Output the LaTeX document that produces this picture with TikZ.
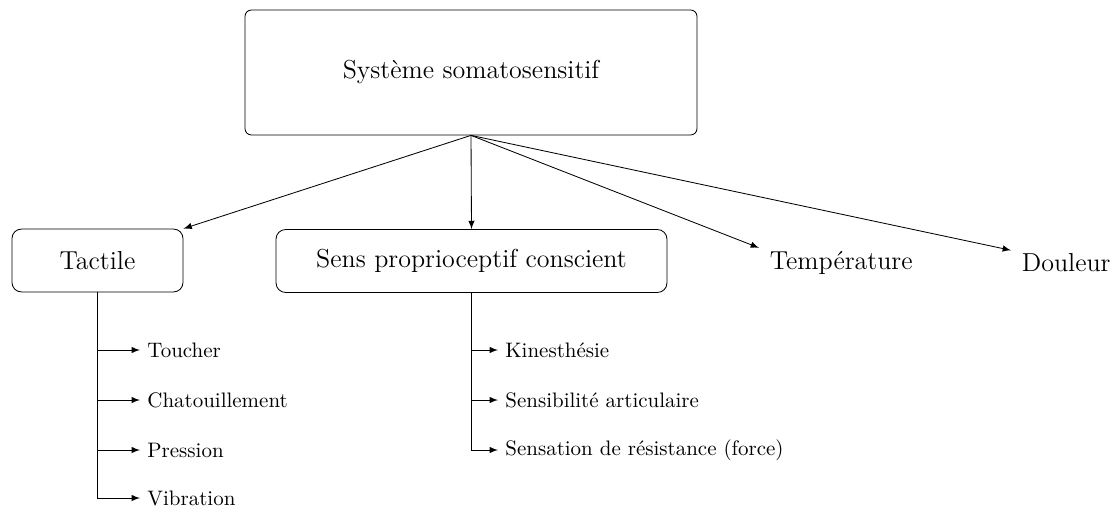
\documentclass[tikz,border=0pt]{standalone}
\usetikzlibrary{arrows}
\begin{document}
\begin{tikzpicture}[x=0.4771pt,y=-0.4771pt,>=latex,
  bigbox/.style={draw,rounded corners=3pt,font=\fontsize{12.4}{15}\selectfont,minimum width=215.6pt,minimum height=59.6pt},
  midbox/.style={draw,rounded corners=4.5pt,font=\fontsize{12.4}{15}\selectfont,minimum height=30pt},
  plainlabel/.style={font=\fontsize{12.4}{15}\selectfont,anchor=west,inner xsep=5pt,inner ysep=1.5pt},
  subitem/.style={anchor=west}]
\useasboundingbox (0,0) rectangle (1118,508);
\node[bigbox] (top) at (471,72.5) {Système somatosensitif};
\node[midbox,minimum width=81.6pt] (tactile) at (97.5,260.5) {Tactile};
\node[midbox,minimum width=186.5pt] (sens) at (471.5,261) {Sens proprioceptif conscient};
\node[plainlabel] (temp) at (759,263) {Température};
\node[plainlabel] (douleur) at (1011,263) {Douleur};

\draw[->] (top.south) -- (tactile.north east);
\draw[->] (top.south) -- (sens.north);
\draw[->] (top.south) -- (temp.north west);
\draw[->] (top.south) -- (douleur.north west);

\node[subitem] (toucher) at (140,350) {Toucher};
\node[subitem] (chatouil) at (140,400) {Chatouillement};
\node[subitem] (pression) at (140,450) {Pression};
\node[subitem] (vibration) at (140,498) {Vibration};
\draw[->] (tactile.south) |- (toucher.west);
\draw[->] (tactile.south) |- (chatouil.west);
\draw[->] (tactile.south) |- (pression.west);
\draw[->] (tactile.south) |- (vibration.west);

\node[subitem] (kines) at (498,350) {Kinesthésie};
\node[subitem] (sensib) at (498,400) {Sensibilité articulaire};
\node[subitem] (sensation) at (498,450) {Sensation de résistance (force)};
\draw[->] (sens.south) |- (kines.west);
\draw[->] (sens.south) |- (sensib.west);
\draw[->] (sens.south) |- (sensation.west);
\end{tikzpicture}
\end{document}
